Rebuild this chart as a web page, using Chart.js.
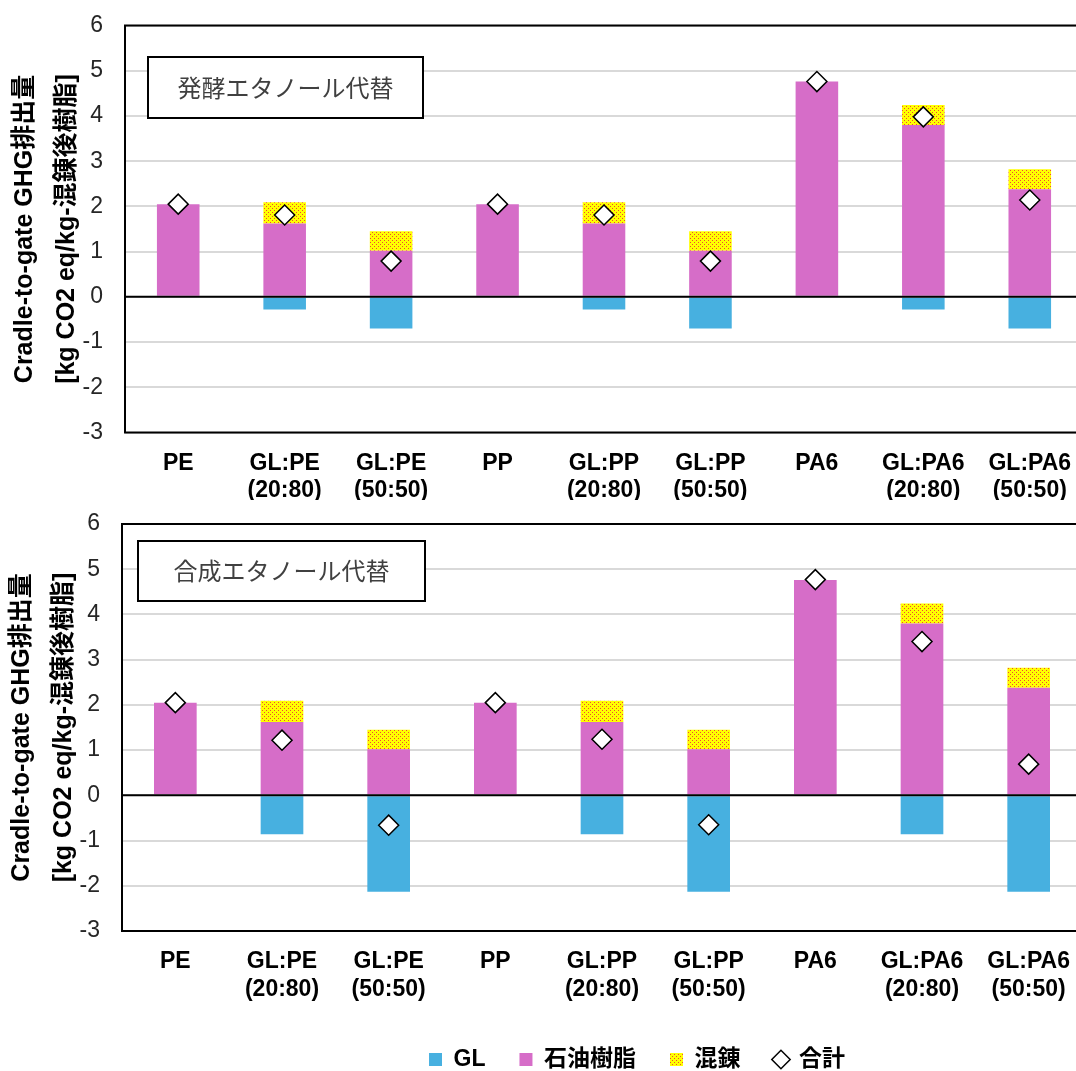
<!DOCTYPE html>
<html lang="ja">
<head>
<meta charset="UTF-8">
<title>Cradle-to-gate GHG排出量</title>
<script src="https://cdn.jsdelivr.net/npm/chart.js@4.4.1/dist/chart.umd.min.js"></script>
<style>
    html, body { margin: 0; padding: 0; background: #fff; overflow: hidden; }
    #wrap { position: relative; width: 1076px; height: 1071px; overflow: hidden; }
    #topChart { position: absolute; left: 0; top: 0; }
    #bottomChart { position: absolute; left: 0; top: 500px; }
</style>
</head>
<body>
<div id="wrap">
    <canvas id="topChart" width="1084" height="500"></canvas>
    <canvas id="bottomChart" width="1084" height="581"></canvas>
</div>
<script>
const categories = [
    ["PE"], ["GL:PE", "(20:80)"], ["GL:PE", "(50:50)"],
    ["PP"], ["GL:PP", "(20:80)"], ["GL:PP", "(50:50)"],
    ["PA6"], ["GL:PA6", "(20:80)"], ["GL:PA6", "(50:50)"]
];
const seriesNames = ["GL", "石油樹脂", "混錬", "合計"];

// 石油樹脂 and 混錬 are the same in both panels
const petroleum = [2.05, 1.62, 1.02, 2.05, 1.62, 1.02, 4.76, 3.80, 2.38];
const mixing = [null, 0.47, 0.43, null, 0.47, 0.43, null, 0.44, 0.44];

// 発酵エタノール代替
const glFermented = [null, -0.28, -0.70, null, -0.28, -0.70, null, -0.28, -0.70];
const totalFermented = [2.05, 1.81, 0.79, 2.05, 1.81, 0.79, 4.76, 3.98, 2.14];

// 合成エタノール代替
const glSynthetic = [null, -0.86, -2.13, null, -0.86, -2.13, null, -0.86, -2.13];
const totalSynthetic = [2.05, 1.22, -0.66, 2.05, 1.24, -0.65, 4.77, 3.40, 0.69];

const yMin = -3;
const yMax = 6;
const yTitle = ["Cradle-to-gate GHG排出量", "[kg CO2 eq/kg-混錬後樹脂]"];

Chart.defaults.font.family = "'Liberation Sans', 'Noto Sans CJK JP', sans-serif";
Chart.defaults.animation = false;

function dotPattern() {
    const c = document.createElement("canvas");
    c.width = 4;
    c.height = 4;
    const g = c.getContext("2d");
    g.fillStyle = "#FFFF00";
    g.fillRect(0, 0, 4, 4);
    g.fillStyle = "#F04A30";
    g.fillRect(0, 0, 1, 1);
    g.fillRect(2, 2, 1, 1);
    return g.createPattern(c, "repeat");
}

// frame around the plot, zero line on top of the bars, and the note box
const framePlugin = {
    id: "frame",
    afterDatasetsDraw(chart) {
        const { ctx, chartArea: a } = chart;
        const y0 = chart.scales.y.getPixelForValue(0);
        ctx.save();
        ctx.strokeStyle = "#000";
        ctx.lineWidth = 2;
        ctx.beginPath();
        ctx.moveTo(a.left, y0);
        ctx.lineTo(a.right, y0);
        ctx.stroke();
        ctx.restore();
    },
    afterDraw(chart, args, opts) {
        const { ctx, chartArea: a } = chart;
        ctx.save();
        ctx.strokeStyle = "#000";
        ctx.lineWidth = 2;
        ctx.strokeRect(a.left, a.top, a.right - a.left, a.bottom - a.top);

        const [bx, by, bw, bh] = opts.box;
        ctx.fillStyle = "#fff";
        ctx.fillRect(bx, by, bw, bh);
        ctx.strokeRect(bx, by, bw, bh);
        ctx.fillStyle = "#404040";
        ctx.font = "24px 'Noto Sans CJK JP', sans-serif";
        ctx.textAlign = "center";
        ctx.textBaseline = "middle";
        ctx.fillText(opts.note, bx + bw / 2, by + bh / 2);
        ctx.restore();
    }
};

const legendShift = {
    id: "legendShift",
    afterLayout(chart, args, opts) {
        if (chart.legend && opts.dx) {
            chart.legend.left += opts.dx;
            chart.legend.right += opts.dx;
        }
    }
};

function buildChart(id, glValues, totalValues, cfg) {
    const ctx = document.getElementById(id).getContext("2d");
    return new Chart(ctx, {
        type: "bar",
        data: {
            labels: categories,
            datasets: [
                {
                    label: seriesNames[0],
                    data: glValues,
                    backgroundColor: "#47B0E0",
                    pointStyle: "rect",
                    stack: "bars",
                    order: 1
                },
                {
                    label: seriesNames[1],
                    data: petroleum,
                    backgroundColor: "#D66DC8",
                    pointStyle: "rect",
                    stack: "bars",
                    order: 1
                },
                {
                    label: seriesNames[2],
                    data: mixing,
                    backgroundColor: dotPattern(),
                    pointStyle: "rect",
                    stack: "bars",
                    order: 1
                },
                {
                    type: "line",
                    label: seriesNames[3],
                    data: totalValues,
                    showLine: false,
                    pointStyle: "rectRot",
                    pointRadius: 10,
                    pointBackgroundColor: "#fff",
                    pointBorderColor: "#000",
                    pointBorderWidth: 1.5,
                    stack: "total",
                    order: 0
                }
            ]
        },
        plugins: [framePlugin, legendShift],
        options: {
            responsive: false,
            layout: {
                autoPadding: false,
                padding: { top: cfg.padTop, right: cfg.padRight, left: 0, bottom: 0 }
            },
            datasets: {
                bar: { barPercentage: 0.4, categoryPercentage: 1.0 }
            },
            plugins: {
                tooltip: { enabled: false },
                frame: { box: cfg.box, note: cfg.note },
                legendShift: { dx: cfg.legendDx },
                legend: {
                    display: cfg.legend,
                    position: "bottom",
                    labels: {
                        usePointStyle: true,
                        boxWidth: 13,
                        boxHeight: 13,
                        padding: 34,
                        color: "#000",
                        font: { size: 23, weight: "bold" },
                        sort: (a, b) => a.datasetIndex - b.datasetIndex
                    }
                }
            },
            scales: {
                x: {
                    stacked: true,
                    grid: { display: false, drawTicks: false },
                    border: { display: false },
                    ticks: {
                        color: "#000",
                        padding: 17,
                        maxRotation: 0,
                        autoSkip: false,
                        font: { size: 23, weight: "bold", lineHeight: 1.2 }
                    },
                    afterFit: s => {
                        s.height = cfg.xHeight;
                        s.paddingLeft = 0;
                        s.paddingRight = 0;
                    }
                },
                y: {
                    stacked: true,
                    min: yMin,
                    max: yMax,
                    grid: {
                        color: "#D9D9D9",
                        lineWidth: 2,
                        drawTicks: false
                    },
                    border: { display: false },
                    ticks: {
                        stepSize: 1,
                        color: "#262626",
                        padding: 22,
                        font: { size: 23 }
                    },
                    title: {
                        display: true,
                        text: yTitle,
                        color: "#000",
                        padding: { top: cfg.titlePad, bottom: 0 },
                        font: { size: 25, weight: "bold", lineHeight: 1.68 }
                    },
                    afterFit: s => {
                        s.width = cfg.yWidth;
                        s.paddingTop = 0;
                        s.paddingBottom = 0;
                    }
                }
            }
        }
    });
}

document.addEventListener("DOMContentLoaded", () => {
    buildChart("topChart", glFermented, totalFermented, {
        padTop: 25.5,
        padRight: 1,
        xHeight: 67.5,
        yWidth: 125,
        titlePad: 4,
        legend: false,
        legendDx: 0,
        note: "発酵エタノール代替",
        box: [148, 57, 275, 61]
    });
    buildChart("bottomChart", glSynthetic, totalSynthetic, {
        padTop: 24,
        padRight: 2,
        xHeight: 83,
        yWidth: 122,
        titlePad: 1.5,
        legend: true,
        legendDx: 96,
        note: "合成エタノール代替",
        box: [138, 41, 287, 60]
    });
});
</script>
</body>
</html>
